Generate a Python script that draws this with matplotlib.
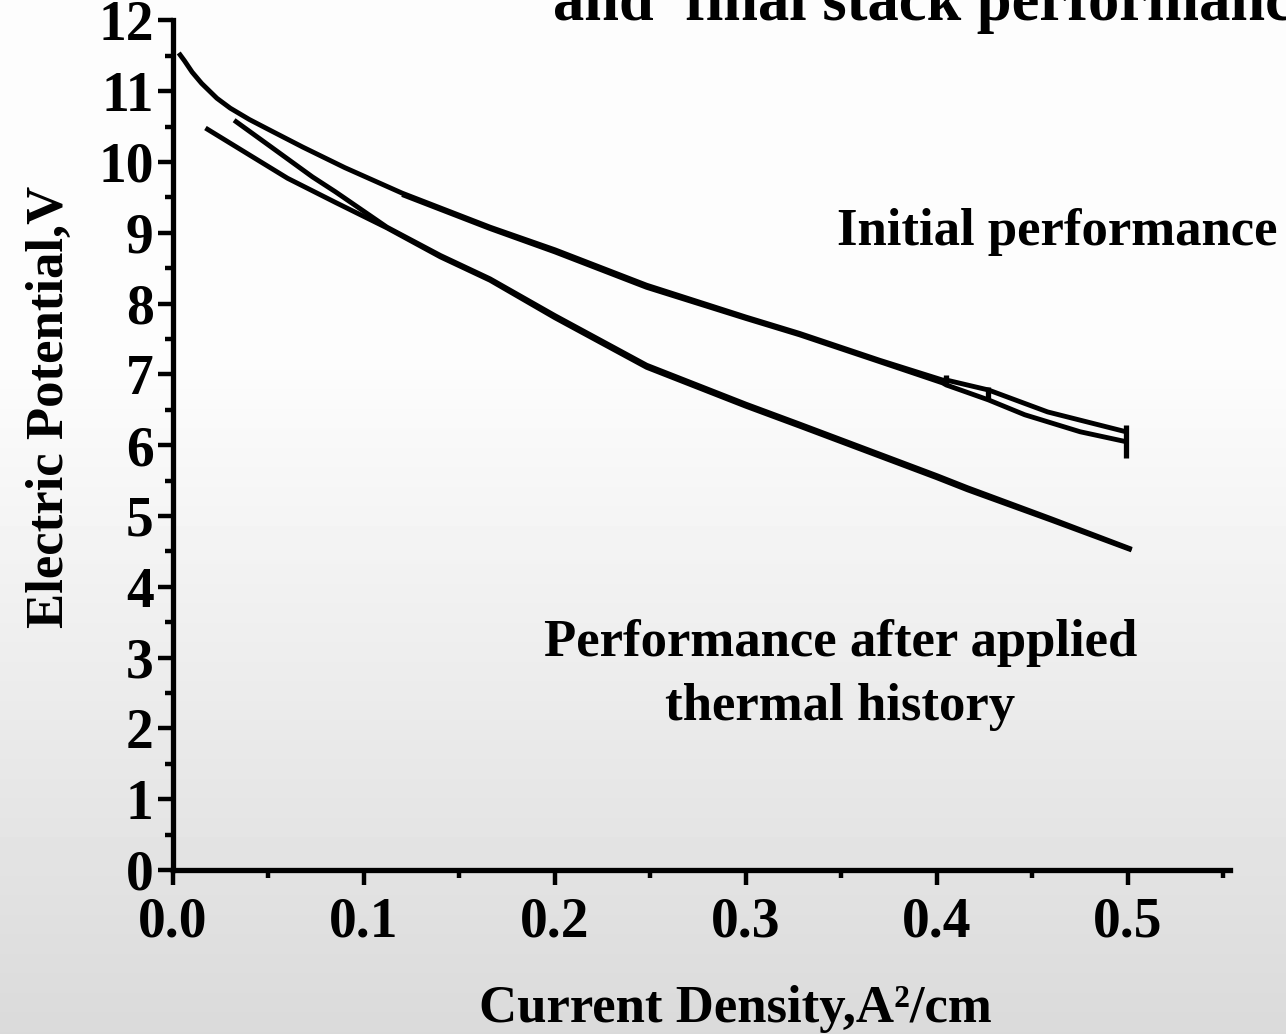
import numpy as np
import matplotlib
matplotlib.use("Agg")
import matplotlib.pyplot as plt
from matplotlib.ticker import MultipleLocator

plt.rcParams['font.family'] = ['Liberation Serif', 'DejaVu Serif']
plt.rcParams['font.weight'] = 'bold'

# initial performance, two overlapping runs
init_a_x = [0.003, 0.006, 0.010, 0.015, 0.023, 0.030, 0.040, 0.050, 0.068, 0.09, 0.12, 0.166, 0.2, 0.248, 0.3, 0.328, 0.37, 0.403, 0.405, 0.427, 0.458, 0.499]
init_a_y = [11.54, 11.43, 11.27, 11.11, 10.90, 10.76, 10.60, 10.46, 10.21, 9.92, 9.56, 9.08, 8.76, 8.26, 7.81, 7.58, 7.20, 6.92, 6.92, 6.78, 6.47, 6.19]
init_b_x = [0.12, 0.166, 0.2, 0.248, 0.3, 0.328, 0.37, 0.403, 0.405, 0.427, 0.446, 0.475, 0.499]
init_b_y = [9.54, 9.06, 8.73, 8.23, 7.79, 7.56, 7.18, 6.88, 6.85, 6.64, 6.43, 6.19, 6.05]

# error marks on the initial curve
err_x = [0.405, 0.427, 0.499]
err_y = [6.92, 6.73, 6.05]
err_h = [0.07, 0.09, 0.23]

# after applied thermal history, two runs
therm_a_x = [0.017, 0.040, 0.060, 0.085, 0.112, 0.14, 0.166, 0.2, 0.248, 0.3, 0.328, 0.4, 0.416, 0.46, 0.502]
therm_a_y = [10.48, 10.10, 9.77, 9.43, 9.07, 8.66, 8.33, 7.80, 7.10, 6.55, 6.27, 5.54, 5.37, 4.94, 4.52]
therm_b_x = [0.032, 0.051, 0.073, 0.085, 0.112, 0.14, 0.166, 0.2, 0.248, 0.3, 0.328, 0.4, 0.416, 0.46, 0.502]
therm_b_y = [10.59, 10.22, 9.79, 9.58, 9.08, 8.68, 8.35, 7.83, 7.13, 6.58, 6.30, 5.57, 5.40, 4.96, 4.53]

W, H = 1286, 1034
fig = plt.figure(figsize=(W/100, H/100), dpi=100)

# gradient background
bg = fig.add_axes([0, 0, 1, 1], zorder=-10)
rows = np.arange(H)
shade = np.where(rows < 350, 253, 253 - (rows - 350)*35/684) / 255.0
bg.imshow(np.repeat(shade[:, None], 2, axis=1), cmap='gray', vmin=0, vmax=1,
          aspect='auto', extent=[0, 1, 0, 1], origin='upper')
bg.axis('off')

ax = fig.add_axes([173/W, 1 - 870/H, (1230-173)/W, (870-20.4)/H])
ax.patch.set_alpha(0)

lw = 3.5
for xs, ys in [(init_a_x, init_a_y), (init_b_x, init_b_y),
               (therm_a_x, therm_a_y), (therm_b_x, therm_b_y)]:
    ax.plot(xs, ys, color='black', lw=lw, solid_capstyle='butt', solid_joinstyle='round')
ax.errorbar(err_x, err_y, yerr=err_h, fmt='none', ecolor='black', elinewidth=3.8, capsize=0)

ax.set_xlim(0, 0.5535)
ax.set_ylim(0, 12)
ax.spines['top'].set_visible(False)
ax.spines['right'].set_visible(False)
for s in ['left', 'bottom']:
    ax.spines[s].set_linewidth(3.8)

ax.xaxis.set_minor_locator(MultipleLocator(0.05))
ax.yaxis.set_major_locator(MultipleLocator(1))
ax.yaxis.set_minor_locator(MultipleLocator(0.5))
ax.set_xticks([0, 0.1, 0.2, 0.3, 0.4, 0.5])
ax.set_xticklabels(['0.0', '0.1', '0.2', '0.3', '0.4', '0.5'])
ax.tick_params(which='major', length=11, width=3.2, labelsize=40, pad=3)
ax.tick_params(which='minor', length=5.5, width=3.2)
ax.tick_params(axis='x', which='major', pad=8)

ax.set_xlabel('Current Density,A\u00b2/cm', fontsize=38, fontweight='bold')
ax.xaxis.set_label_coords(0.532, -0.135)
ax.set_ylabel('Electric Potential,V', fontsize=38, fontweight='bold')
ax.yaxis.set_label_coords(-0.094, 0.545)

ax.text(0.5785, 8.83, 'Initial performance', fontsize=38, fontweight='bold',
        ha='right', va='baseline')
ax.text(0.3495, 2.12, 'Performance after applied\nthermal history', fontsize=38,
        fontweight='bold', ha='center', va='baseline', linespacing=1.42)

# title of the slide, cut off at the top edge as in the source image
fig.text(553/W, 1 - 20/H, 'and  final stack performance', fontsize=45,
         fontweight='bold', ha='left', va='baseline')

fig.savefig('out.png', dpi=100)
